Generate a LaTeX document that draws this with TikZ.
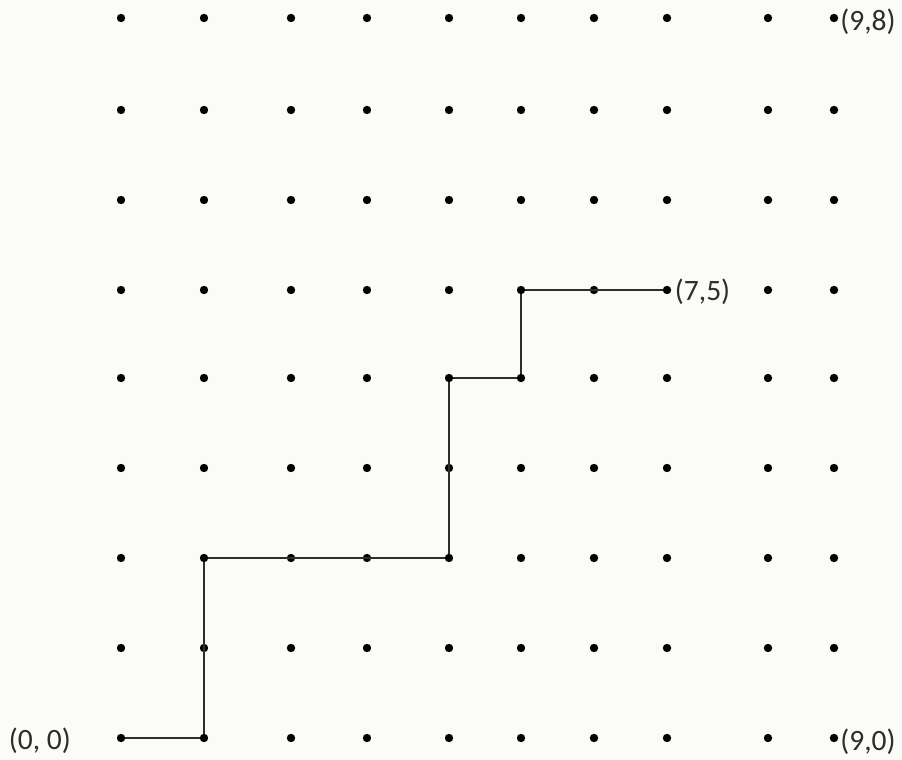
\documentclass[tikz,border=0pt]{standalone}
\usepackage{fontspec}
\setmainfont{Carlito}
\definecolor{paper}{RGB}{251,251,248}
\definecolor{ink}{RGB}{45,45,45}
\begin{document}
\begin{tikzpicture}[x=0.025cm, y=-0.025cm]
\tikzset{dot/.style={circle, fill=black, inner sep=0pt, minimum size=0.21cm},
  lbl/.style={font=\fontsize{21}{25}\selectfont, text=ink, inner sep=0pt},
  walk/.style={draw=ink, line width=1.5pt}}
\fill[paper] (0,0) rectangle (902,760);
% lattice points
\foreach \j/\y in {0/738, 1/648, 2/558, 3/468, 4/378, 5/290, 6/200, 7/110, 8/18} {
  \foreach \i/\x in {0/121, 1/204, 2/291, 3/367, 4/449, 5/521, 6/594, 7/667, 8/768, 9/834} {
    \node[dot] (p-\i-\j) at (\x,\y) {};
  }
}
% the path
\draw[walk] (p-0-0) -- (p-1-0) -- (p-1-2) -- (p-4-2) -- (p-4-4) -- (p-5-4) -- (p-5-5) -- (p-7-5);
% labels
\node[lbl, anchor=east] (lab-00) at (71,741) {(0, 0)};
\node[lbl, anchor=west] (lab-90) at ([xshift=0.04cm, yshift=-0.1cm]p-9-0.east) {(9,0)};
\node[lbl, anchor=west] (lab-98) at ([xshift=0.04cm, yshift=-0.1cm]p-9-8.east) {(9,8)};
\node[lbl, anchor=west] (lab-75) at ([xshift=0.08cm, yshift=-0.05cm]p-7-5.east) {(7,5)};
\end{tikzpicture}
\end{document}
